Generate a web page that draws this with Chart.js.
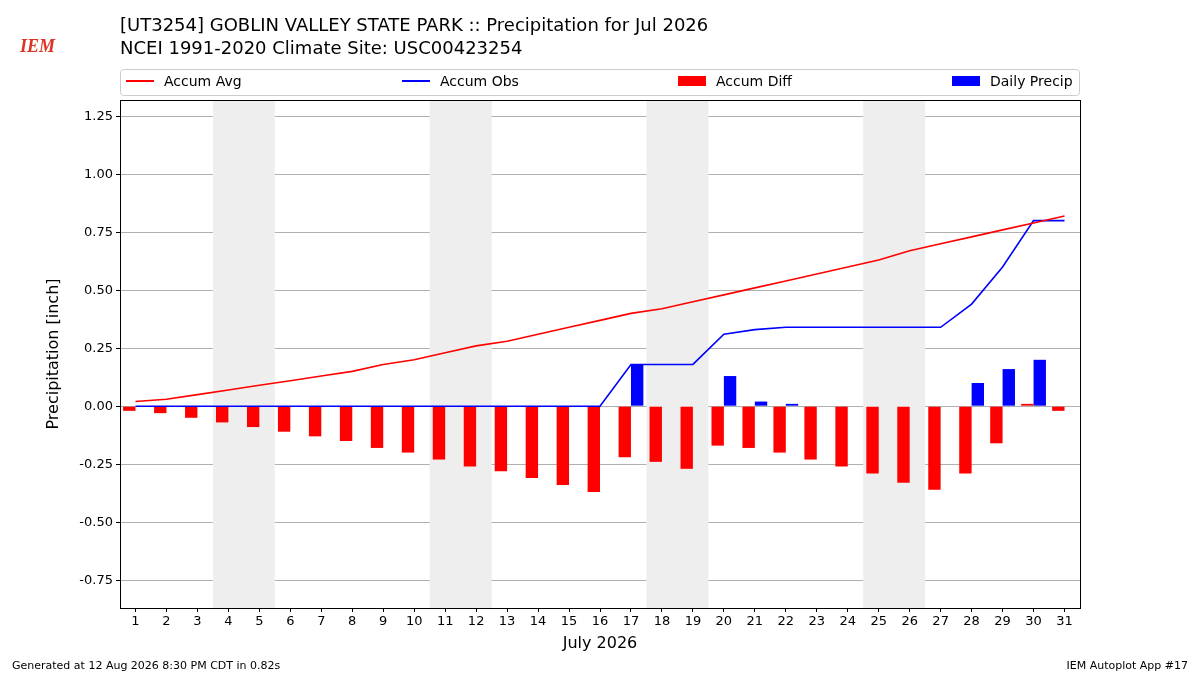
<!DOCTYPE html>
<html><head><meta charset="utf-8">
<script src="https://cdn.jsdelivr.net/npm/chart.js@4"></script>
<style>body{margin:0;background:#fff}canvas{display:block}</style>
</head><body>
<canvas id="c" width="1200" height="675"></canvas>
<script>
const days = Array.from({length:31},(_,i)=>String(i+1));
const accumAvg = [0.02,0.03,0.05,0.07,0.09,0.11,0.13,0.15,0.18,0.20,0.23,0.26,0.28,0.31,0.34,0.37,0.40,0.42,0.45,0.48,0.51,0.54,0.57,0.60,0.63,0.67,0.70,0.73,0.76,0.79,0.82];
const accumObs = [0,0,0,0,0,0,0,0,0,0,0,0,0,0,0,0,0.18,0.18,0.18,0.31,0.33,0.34,0.34,0.34,0.34,0.34,0.34,0.44,0.60,0.80,0.80];
const accumDiff = [-0.02,-0.03,-0.05,-0.07,-0.09,-0.11,-0.13,-0.15,-0.18,-0.20,-0.23,-0.26,-0.28,-0.31,-0.34,-0.37,-0.22,-0.24,-0.27,-0.17,-0.18,-0.20,-0.23,-0.26,-0.29,-0.33,-0.36,-0.29,-0.16,0.01,-0.02];
const dailyPrecip = [0,0,0,0,0,0,0,0,0,0,0,0,0,0,0,0,0.18,0,0,0.13,0.02,0.01,0,0,0,0,0,0.10,0.16,0.20,0];
const weekends = [[4,5],[11,12],[18,19],[25,26]];
const legendItems = [['Accum Avg','red','line'],['Accum Obs','blue','line'],['Accum Diff','red','bar'],['Daily Precip','blue','bar']];
const F = 'DejaVu Sans';

const deco = {
  id:'deco',
  beforeDatasetsDraw(chart){
    const {ctx, chartArea:a, scales:{x}} = chart;
    const half = (a.right-a.left)/62;
    ctx.save(); ctx.fillStyle='#eeeeee';
    weekends.forEach(([s,e])=>{
      const x0 = x.getPixelForValue(s-1) - half, x1 = x.getPixelForValue(e-1) + half;
      ctx.fillRect(x0,a.top,x1-x0,a.bottom-a.top);
    });
    ctx.restore();
  },
  afterDraw(chart){
    const {ctx, chartArea:a} = chart;
    ctx.save();
    ctx.strokeStyle='#000'; ctx.lineWidth=1; ctx.strokeRect(a.left+0.5,a.top+0.5,a.right-a.left,a.bottom-a.top);
    ctx.fillStyle='#000'; ctx.font='18px '+F; ctx.textBaseline='alphabetic';
    ctx.fillText('[UT3254] GOBLIN VALLEY STATE PARK :: Precipitation for Jul 2026',120,31);
    ctx.fillText('NCEI 1991-2020 Climate Site: USC00423254',120,54);
    ctx.font='11px '+F;
    ctx.fillText('Generated at 12 Aug 2026 8:30 PM CDT in 0.82s',12,669);
    ctx.textAlign='right'; ctx.fillText('IEM Autoplot App #17',1188,669); ctx.textAlign='left';
    ctx.fillStyle='#d32'; ctx.font='italic bold 18px serif'; ctx.fillText('IEM',20,52);
    ctx.strokeStyle='#ccc'; ctx.beginPath(); ctx.roundRect(120.5,69.5,959,26,3); ctx.stroke();
    ctx.font='14px '+F;
    const pos=[126,402,678,952];
    legendItems.forEach(([t,c,k],i)=>{
      const px=pos[i];
      if(k==='line'){ctx.strokeStyle=c;ctx.lineWidth=2;ctx.beginPath();ctx.moveTo(px,81);ctx.lineTo(px+28,81);ctx.stroke();}
      else {ctx.fillStyle=c;ctx.fillRect(px,76,28,10);}
      ctx.fillStyle='#000'; ctx.fillText(t,px+38,86);
    });
    ctx.restore();
  }
};

new Chart(document.getElementById('c'),{
  data:{labels:days,datasets:[
    {type:'line',label:'Accum Avg',data:accumAvg,borderColor:'red',borderWidth:1.6,pointRadius:0,order:0},
    {type:'line',label:'Accum Obs',data:accumObs,borderColor:'blue',borderWidth:1.6,pointRadius:0,order:0},
    {type:'bar',label:'Accum Diff',data:accumDiff,backgroundColor:'red',categoryPercentage:0.8,barPercentage:1,order:1},
    {type:'bar',label:'Daily Precip',data:dailyPrecip,backgroundColor:'blue',categoryPercentage:0.8,barPercentage:1,order:1}
  ]},
  options:{
    responsive:false, animation:false, devicePixelRatio:1,
    layout:{padding:{top:100,right:120,left:40,bottom:22}},
    plugins:{legend:{display:false},tooltip:{enabled:false}},
    scales:{
      x:{grid:{offset:false,drawOnChartArea:false,tickColor:'#000',tickLength:4},border:{display:false},
        ticks:{color:'#000',font:{family:F,size:13},maxRotation:0,autoSkip:false,padding:2},
        title:{display:true,text:'July 2026',color:'#000',font:{family:F,size:16},padding:{top:2,bottom:0}},
        afterFit(s){s.height=45;}},
      y:{min:-0.87,max:1.32,
        grid:{color:'#b0b0b0',tickColor:'#000',tickLength:4},border:{display:false},
        ticks:{color:'#000',font:{family:F,size:13},callback:v=>v.toFixed(2)},
        afterBuildTicks(s){s.ticks=[-0.75,-0.5,-0.25,0,0.25,0.5,0.75,1,1.25].map(v=>({value:v}));},
        title:{display:true,text:'Precipitation [inch]',color:'#000',font:{family:F,size:16}},
        afterFit(s){s.width=80;}}
    }
  },
  plugins:[deco]
});
</script>
</body></html>
